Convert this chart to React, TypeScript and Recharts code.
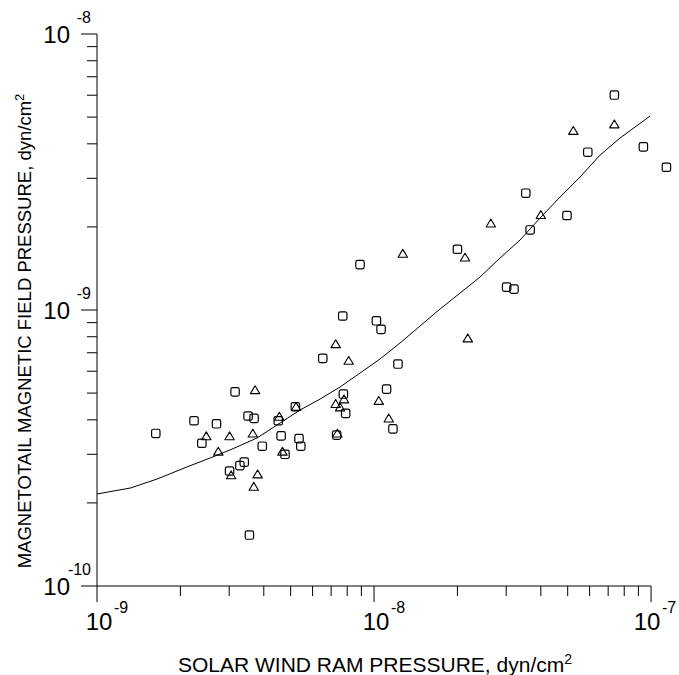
import { ScatterChart, Scatter, XAxis, YAxis, ReferenceLine } from "recharts";

// squares (first data set)
const SQ_X = [
  1.63e-9, 2.24e-9, 2.39e-9, 2.7e-9, 3.01e-9, 3.15e-9, 3.28e-9, 3.4e-9, 3.51e-9, 3.55e-9,
  3.69e-9, 3.95e-9, 4.51e-9, 4.62e-9, 4.77e-9, 5.2e-9, 5.36e-9, 5.44e-9, 6.53e-9, 7.33e-9,
  7.71e-9, 7.75e-9, 7.9e-9, 8.9e-9, 1.02e-8, 1.06e-8, 1.11e-8, 1.17e-8, 1.22e-8, 2.0e-8,
  3.01e-8, 3.2e-8, 3.53e-8, 3.66e-8, 4.97e-8, 5.91e-8, 7.37e-8, 9.38e-8, 1.136e-7,
];
const SQ_Y = [
  3.57e-10, 3.97e-10, 3.29e-10, 3.87e-10, 2.61e-10, 5.05e-10, 2.73e-10, 2.81e-10, 4.13e-10, 1.53e-10,
  4.05e-10, 3.21e-10, 3.97e-10, 3.5e-10, 3.0e-10, 4.46e-10, 3.42e-10, 3.21e-10, 6.68e-10, 3.52e-10,
  9.51e-10, 4.96e-10, 4.22e-10, 1.46e-9, 9.14e-10, 8.51e-10, 5.17e-10, 3.71e-10, 6.37e-10, 1.66e-9,
  1.21e-9, 1.19e-9, 2.65e-9, 1.95e-9, 2.2e-9, 3.73e-9, 6.01e-9, 3.9e-9, 3.29e-9,
];

// triangles (second data set)
const TRI_X = [
  2.48e-9, 2.74e-9, 3.01e-9, 3.05e-9, 3.65e-9, 3.68e-9, 3.72e-9, 3.8e-9, 4.55e-9, 4.67e-9,
  5.23e-9, 7.27e-9, 7.37e-9, 7.27e-9, 8.1e-9, 7.79e-9, 7.54e-9, 1.04e-8, 1.13e-8, 1.27e-8,
  2.13e-8, 2.18e-8, 2.64e-8, 4.0e-8, 5.24e-8, 7.37e-8,
];
const TRI_Y = [
  3.49e-10, 3.07e-10, 3.49e-10, 2.52e-10, 3.57e-10, 2.29e-10, 5.13e-10, 2.54e-10, 4.11e-10, 3.07e-10,
  4.46e-10, 4.57e-10, 3.57e-10, 7.53e-10, 6.55e-10, 4.75e-10, 4.44e-10, 4.69e-10, 4.05e-10, 1.6e-9,
  1.55e-9, 7.9e-10, 2.06e-9, 2.21e-9, 4.46e-9, 4.71e-9,
];

// fitted curve
const FIT_X = [
  1.0e-9, 1.32e-9, 1.65e-9, 2.11e-9, 2.56e-9, 3.02e-9, 3.78e-9, 4.58e-9, 5.41e-9, 6.39e-9,
  7.54e-9, 8.9e-9, 1.051e-8, 1.241e-8, 1.466e-8, 1.731e-8, 2.044e-8, 2.414e-8, 2.85e-8, 3.366e-8,
  3.975e-8, 4.694e-8, 5.542e-8, 6.545e-8, 7.729e-8, 9.92e-8,
];
const FIT_Y = [
  2.154e-10, 2.265e-10, 2.442e-10, 2.699e-10, 2.909e-10, 3.11e-10, 3.437e-10, 3.896e-10, 4.342e-10, 4.758e-10,
  5.26e-10, 5.91e-10, 6.645e-10, 7.593e-10, 8.75e-10, 1.008e-9, 1.152e-9, 1.317e-9, 1.543e-9, 1.793e-9,
  2.154e-9, 2.567e-9, 3.033e-9, 3.643e-9, 4.199e-9, 5.045e-9,
];

const X_TICKS = [
  1e-9, 2e-9, 3e-9, 4e-9, 5e-9, 6e-9, 7e-9, 8e-9, 9e-9,
  1e-8, 2e-8, 3e-8, 4e-8, 5e-8, 6e-8, 7e-8, 8e-8, 9e-8, 1e-7,
];
const Y_TICKS = [
  1e-10, 2e-10, 3e-10, 4e-10, 5e-10, 6e-10, 7e-10, 8e-10, 9e-10,
  1e-9, 2e-9, 3e-9, 4e-9, 5e-9, 6e-9, 7e-9, 8e-9, 9e-9, 1e-8,
];

const X_TITLE = "SOLAR WIND RAM PRESSURE, dyn/cm";
const Y_TITLE = "MAGNETOTAIL MAGNETIC FIELD PRESSURE, dyn/cm";

const FONT = "'Liberation Sans', Arial, sans-serif";
const W = 679;

const squares = SQ_X.map((x, i) => ({ x, y: SQ_Y[i] }));
const triangles = TRI_X.map((x, i) => ({ x, y: TRI_Y[i] }));
const fit = FIT_X.map((x, i) => ({ x, y: FIT_Y[i] }));

function decade(v: number) {
  const l = Math.log10(v);
  const e = Math.round(l);
  return { e, major: Math.abs(l - e) < 1e-6 };
}

// eslint-disable-next-line @typescript-eslint/no-explicit-any
function XTick({ x, y, payload }: any) {
  const { e, major } = decade(payload.value);
  // keep the last label inside the picture
  const shift = Math.min(0, W - 3 - (x + 17 + 14));
  return (
    <g>
      <line x1={x} y1={y} x2={x} y2={y + (major ? 16 : 10)} stroke="#000" />
      {major && (
        <g fontFamily={FONT} fill="#000">
          <text x={x + 2 + shift} y={y + 44} textAnchor="middle" fontSize={24}>10</text>
          <text x={x + 17 + shift} y={y + 27} fontSize={16}>{e}</text>
        </g>
      )}
    </g>
  );
}

// eslint-disable-next-line @typescript-eslint/no-explicit-any
function YTick({ x, y, payload }: any) {
  const { e, major } = decade(payload.value);
  return (
    <g>
      <line x1={x - (major ? 16 : 10)} y1={y} x2={x} y2={y} stroke="#000" />
      {major && (
        <g fontFamily={FONT} fill="#000">
          <text x={x - 27} y={y + 9} textAnchor="end" fontSize={24}>10</text>
          <text x={x - 6} y={y - 11} textAnchor="end" fontSize={16}>{e}</text>
        </g>
      )}
    </g>
  );
}

// eslint-disable-next-line @typescript-eslint/no-explicit-any
const Square = ({ cx, cy }: any) => (
  <rect x={cx - 4.2} y={cy - 4.2} width={8.4} height={8.4} rx={1.8} fill="none" stroke="#000" strokeWidth={1.2} />
);

// eslint-disable-next-line @typescript-eslint/no-explicit-any
const Triangle = ({ cx, cy }: any) => (
  <polygon
    points={`${cx},${cy - 4.3} ${cx - 4.7},${cy + 3.6} ${cx + 4.7},${cy + 3.6}`}
    fill="none" stroke="#000" strokeWidth={1.1} strokeLinejoin="round"
  />
);

const XTitle = () => (
  <text x={375} y={672} textAnchor="middle" fontFamily={FONT} fontSize={21} fill="#000">
    {X_TITLE}
    <tspan dy={-8} fontSize={14}>2</tspan>
  </text>
);

const YTitle = () => (
  <text
    x={0} y={0} transform="translate(31 331) rotate(-90)"
    textAnchor="middle" fontFamily={FONT} fontSize={18.5} fill="#000"
  >
    {Y_TITLE}
    <tspan dy={-7} fontSize={13}>2</tspan>
  </text>
);

export default function App() {
  return (
    <div style={{ position: "absolute", left: 0, top: 0, background: "#fff" }}>
      <ScatterChart width={W} height={675} margin={{ top: 34, right: 4, bottom: 0, left: 0 }}>
        <XAxis
          dataKey="x"
          type="number"
          scale="log"
          domain={[1e-9, 1.22e-7]}
          allowDataOverflow
          ticks={X_TICKS}
          interval={0}
          height={89}
          axisLine={false}
          tickLine={false}
          tickSize={0}
          tickMargin={0}
          tick={<XTick />}
          label={{ content: () => <XTitle /> }}
        />
        <YAxis
          dataKey="y"
          type="number"
          scale="log"
          domain={[1e-10, 1e-8]}
          allowDataOverflow
          ticks={Y_TICKS}
          interval={0}
          width={97}
          axisLine={{ stroke: "#000" }}
          tickLine={false}
          tickSize={0}
          tickMargin={0}
          tick={<YTick />}
          label={{ content: () => <YTitle /> }}
        />
        <ReferenceLine
          segment={[{ x: 1e-9, y: 1e-10 }, { x: 1e-7, y: 1e-10 }]}
          stroke="#000"
          ifOverflow="visible"
        />
        <Scatter
          data={fit}
          line={{ stroke: "#000", strokeWidth: 1 }}
          lineType="joint"
          shape={() => <g />}
          isAnimationActive={false}
        />
        <Scatter data={squares} shape={<Square />} isAnimationActive={false} />
        <Scatter data={triangles} shape={<Triangle />} isAnimationActive={false} />
      </ScatterChart>
    </div>
  );
}
